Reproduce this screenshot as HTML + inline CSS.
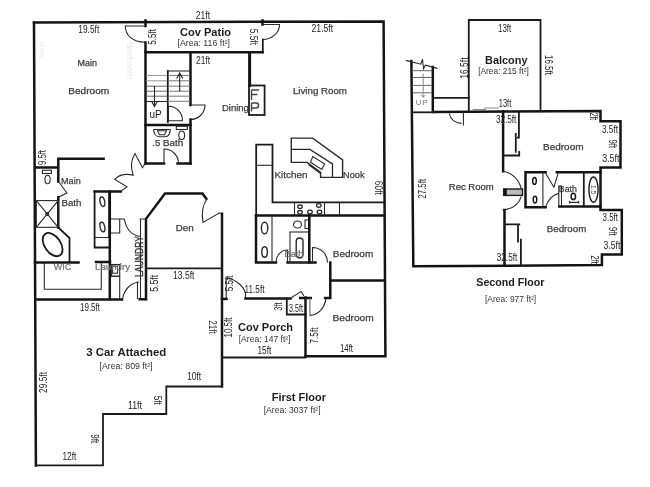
<!DOCTYPE html>
<html><head><meta charset="utf-8">
<style>
html,body{margin:0;padding:0;background:#fff;width:650px;height:487px;overflow:hidden}
svg{display:block;will-change:transform}
text{font-family:"Liberation Sans",sans-serif;text-anchor:middle}
.W{stroke:#141414;stroke-width:2.5;fill:none;stroke-linecap:square;stroke-linejoin:miter}
.M{stroke:#1c1c1c;stroke-width:1.8;fill:none;stroke-linecap:square}
.T{stroke:#2a2a2a;stroke-width:1.1;fill:none}
.G{stroke:#8a8a8a;stroke-width:1;fill:none}
.r{stroke:#3c3c3c;stroke-width:0.25}
.g{stroke:#6e6e6e;stroke-width:0.2}
.d{font-size:10px;fill:#1e1e1e;font-weight:normal}
.r{font-size:9.2px;fill:#3c3c3c;font-weight:normal}
.b{font-size:11px;fill:#1e1e1e;font-weight:bold}
.a{font-size:8.5px;fill:#333;font-weight:normal}
.g{font-size:9.2px;fill:#6e6e6e;font-weight:normal}
</style></head>
<body>
<svg width="650" height="487" viewBox="0 0 650 487">

<!-- ============ FIRST FLOOR ============ -->
<!-- outer walls -->
<path class="W" d="M34,22.4 L383.6,21.4 L385.4,356.3 H305.5"/>
<path class="W" d="M34,22.4 L35.9,465.4"/>
<!-- garage outline -->
<path class="M" d="M35.9,465.4 H103 V414 H166.3 V386.5 H222"/>
<path class="W" d="M222,213.75 V386.5"/>

<!-- patio -->
<path class="W" d="M145.5,20.5 V26"/>
<path class="T" d="M145,26 H125.2 C125.5,35 132,42 145,42.3"/>
<path class="W" d="M145.5,42.5 V163.5"/>
<path class="W" d="M145.5,52.2 H262.8"/>
<path class="M" d="M262.8,39.5 V52.2"/>
<path class="W" d="M262.5,20.5 V24.5"/>
<path class="T" d="M262.5,24.5 H279.5 C279.5,33 272,39.5 262.5,39.5"/>

<!-- stairs -->
<path class="W" d="M190.5,52.5 V105"/>
<path class="M" d="M167.8,71 V122"/>
<path class="T" d="M167.8,71 H190.5"/>
<path class="G" style="stroke:#999" d="M146,75.4 H167 M146,80.8 H167"/><path class="G" style="stroke:#666" d="M146,86.2 H167 M146,91.2 H167 M146,96.2 H167"/>
<path class="G" style="stroke:#777" d="M168,75.4 H190 M168,80.8 H190 M168,86.2 H190 M168,91.2 H190 M168,96.2 H190 M168,101.3 H190"/>
<path class="T" d="M146,101.5 H167"/>
<path class="T" d="M154.5,86 V106 M151.5,101 L154.5,106.5 L157.5,101"/>
<path class="T" d="M179.7,91.5 V73.5 M176.7,78.5 L179.7,73 L182.7,78.5"/>
<path class="T" d="M168.5,120.8 V106.2 A14,14.6 0 0 1 182.5,120.8 Z"/>
<path class="T" d="M190.5,105 H205 A14.5,14.5 0 0 1 190.5,119.5"/>
<path class="W" d="M145.5,125 H190.5"/>
<path class="W" d="M190.5,119.5 V163.5"/>
<path class="W" d="M145.5,163.5 H164 M177.5,163.5 H190.5"/>
<path class="T" d="M164,163.5 V149 A14.5,14.5 0 0 1 178.5,163.5"/>
<!-- .5 bath fixtures -->
<path class="T" d="M153.7,129.5 H170.2 C170.2,134 168,136.7 165,136.7 H158.9 C156,136.7 153.7,134 153.7,129.5 Z"/>
<path class="T" d="M157.5,130.8 H166.5 L164.5,134.8 H159.5 Z"/>
<rect class="T" x="176.3" y="126.3" width="11" height="3.2"/>
<ellipse class="T" cx="181.7" cy="135.3" rx="2.9" ry="4.3"/>

<!-- dining / fireplace -->
<path class="W" d="M249.6,52.5 V85.5" style="stroke-width:3"/>
<rect class="M" x="249" y="85.5" width="15.6" height="29.5"/>
<path class="T" style="stroke:#444;stroke-width:1.4" d="M251.5,90 V100 M251.5,90 H259 M251.5,94.5 H257.5 M251.5,103 V111.5 M251.5,103 H256 C259.5,103 259.5,108 256,108 H251.5"/>

<!-- main bedroom / main bath -->
<path class="W" d="M35,167.5 H57.5 M58.3,158.8 H103.6 M58.3,158.8 V181.5"/>
<rect class="T" x="42.4" y="170.2" width="9" height="3.3"/>
<ellipse class="T" cx="47.6" cy="179.5" rx="2.6" ry="4.3"/>
<path class="T" d="M59,182.2 L66.9,193 L58.3,197.3"/>
<path class="W" d="M58.3,197.3 V227.5"/>
<rect class="T" x="36.3" y="200.6" width="21.9" height="26.7"/>
<path class="T" d="M36.3,200.6 L58.2,227.3 M58.2,200.6 L36.3,227.3"/>
<circle class="T" cx="47.2" cy="214" r="1.5"/>
<path class="M" d="M58.2,227.5 L69.5,238 V261"/>
<ellipse class="M" cx="52.6" cy="244.6" rx="8" ry="13" transform="rotate(-35 52.6 244.6)"/>
<path class="W" d="M35,262.5 H78.5"/>
<path class="T" d="M44.3,262.5 V289.3 H101.3 V262.5"/>
<path class="W" d="M96,262 H110"/>

<!-- vanity / laundry -->
<path class="W" d="M94.6,191.5 H120.8"/>
<path class="M" d="M94.6,191.5 V247.5 H109.5"/>
<path class="T" d="M108.8,191.5 V237.5 H94.6"/>
<ellipse class="T" cx="102.4" cy="201.7" rx="2.3" ry="4.8" transform="rotate(-12 102.4 201.7)" style="stroke-width:1.4"/>
<ellipse class="T" cx="102.4" cy="227" rx="2.3" ry="4.8" transform="rotate(-12 102.4 227)" style="stroke-width:1.4"/>
<path class="T" d="M110.4,219 H124.4 M119.7,219 V233 H110.4"/>
<path class="W" d="M109.8,191.5 V299"/>
<rect class="T" x="111.6" y="264.5" width="8.1" height="11.7"/>
<rect class="T" x="112.6" y="266.2" width="5" height="7"/>
<path class="T" d="M111,276.2 H119.7 V299"/>
<path class="T" d="M124.4,219 C126,229 132,235 139.7,236.4"/>
<path class="T" d="M120.9,191.1 L127,186.8 L114.7,179.4 Q121,172.5 133.2,175.1 Q129,163 135,153.5 L142.4,167.7 L145.5,163"/>
<path class="T" d="M140.5,219 V299 M139.7,219 H146"/>
<path class="W" d="M35.5,299.5 H122 M139.7,299.2 H146"/>
<path class="T" d="M137.5,299 V281.5 M122.5,299 C124,290 130,283 139,282"/>

<!-- den -->
<path class="W" d="M146,299 V218.8 L165,193.5 H202.5 L206.3,198.8"/>
<path class="T" d="M207.2,198.5 C202.5,205 201.5,214 203,222.4 L219.5,212.8 L221.5,214"/>
<path class="M" d="M146,268.3 H221.5"/>
<path class="W" d="M222,298.9 H226.5"/>
<path class="T" d="M226.2,277.2 V298.9 M227.1,277.7 C237,280 244,287 245.5,293.4 V298.9"/>

<!-- kitchen -->
<path class="M" d="M256.2,215.5 V144.6 H272.5 V202.3 H384.5"/>
<path class="T" d="M256.2,165.3 H272.5"/>
<path class="T" d="M294.5,202 V215.5 M324.5,202 V215.5 M339.5,202 V215.5"/>
<g class="T" style="stroke-width:1.3"><ellipse cx="300" cy="206.8" rx="2.3" ry="1.8"/><ellipse cx="318.8" cy="205.5" rx="2.3" ry="1.8"/><ellipse cx="300" cy="212.3" rx="2.3" ry="1.8"/><ellipse cx="310" cy="212" rx="2.3" ry="1.8"/><ellipse cx="319.5" cy="212" rx="2.3" ry="1.8"/></g>
<path class="T" style="stroke-width:1.4" d="M291.3,138.1 H312.7 L342.6,159.9 V177.4 H320.6 V172.3 L307.1,162.4 H291.3 Z"/>
<path class="T" style="stroke-width:1.3" d="M291.3,149.4 H309.9 L332.5,163.9 V177.4 M308.5,164.5 L320.6,173.5"/>
<path class="T" d="M312.7,156.5 L324.6,163.9 L321.8,169.5 L310.5,162.2 Z"/>

<!-- upper right bath -->
<path class="W" d="M256,215.5 H384.5"/>
<path class="W" d="M256,215.5 V262.5 H276 M287.5,262.5 H315.5"/>
<path class="T" d="M272,215.5 V262.5"/>
<ellipse class="T" cx="264.6" cy="228" rx="3.2" ry="5.8" style="stroke-width:1.4"/>
<ellipse class="T" cx="264.6" cy="252" rx="2.8" ry="5.3" style="stroke-width:1.4"/>
<path class="T" d="M276,262.5 A11.5,12.5 0 0 1 287.5,250 V262.5"/>
<rect class="T" x="290" y="232" width="18.8" height="30.5"/>
<rect class="T" x="296.2" y="238" width="6.8" height="20" rx="3.4" style="stroke-width:1.4"/>
<ellipse class="T" cx="297.5" cy="224.5" rx="4" ry="3.5"/>
<rect class="T" x="305" y="220" width="3.8" height="8.5"/>
<path class="W" d="M309.3,215.5 V262.5"/>
<path class="T" d="M312.5,262.5 V247.5 A15,15 0 0 1 327.5,262.5"/>
<path class="W" d="M330.3,262.5 V297.9 H325.1"/>
<path class="W" d="M330.5,280.5 H384.5"/>

<!-- porch -->
<path class="W" d="M245.5,298.5 H290.5 M300.2,297.9 H310.8"/>
<path class="M" d="M286.8,298.5 V314.5 H305.2"/>
<path class="T" d="M290.5,298.3 L301.1,291.4 L303.9,296"/>
<path class="W" d="M305.5,297.5 V356.5"/>
<path class="T" style="stroke:#666" d="M309.9,298 V315.4"/><path class="T" d="M309.9,315.4 C318,315.4 325,308 326,297.9"/>
<path class="M" d="M222,357.5 H305.5"/>

<!-- dims + labels first floor -->

<!-- ============ SECOND FLOOR ============ -->
<path class="M" d="M468.8,111.3 V20 H540.5 V111.3"/>
<path class="W" d="M433.3,112 L600.5,111 V121.3 H620.5 V167.5 H600.5 V210 H621.8 V254.4 H601.9 V265.1 L413.3,266.2 L411.4,61"/>
<path class="W" d="M432.8,67 V111.3"/>
<path class="M" d="M412.3,112.3 H433.3"/>
<path class="M" d="M433.3,97.9 H468.8"/>
<path class="T" d="M405.9,60.4 L420.8,64.2 L422.5,59.3 L423.5,68.7 L425.3,65.2 L437.4,68.4"/>
<path class="G" style="stroke:#666" d="M412.5,70.7 H432 M412.5,77.5 H432 M412.5,85.4 H432 M412.5,92.8 H432"/>
<path class="G" d="M423.2,73.6 V97.3 M420.9,94.9 L423.2,97.3 L425.5,94.9"/>
<path class="G" d="M483.8,108 H498.8 M472.5,109.5 H486"/>
<path class="T" d="M449.3,113.5 C450.5,119 455,122.8 461.5,123.4 M463.4,112 V125.5"/>
<!-- rec room / bedroom upper -->
<path class="W" d="M503.1,111.3 V171.3"/>
<path class="M" d="M503,155.5 H519.2 V151.8 M518.9,112.4 V137.6 H517.5"/>
<path class="M" d="M515.8,133.9 V151.8"/>
<path class="T" d="M502.5,171.3 C511,172 519,179 521.3,188.8"/>
<rect x="503.8" y="189" width="18.7" height="6.4" style="fill:#bbb;stroke:#1a1a1a;stroke-width:1.4"/><rect x="503.3" y="188.6" width="3.5" height="7.2" style="fill:#111"/>
<path class="T" d="M521.3,196.3 C519,204 512,209 502.5,210"/>
<path class="W" d="M504.5,210 V265.5"/>
<path class="M" d="M505,224.3 H519.3 M518,224.3 V241.7 M520.9,239.7 V265.5"/>
<!-- bath upstairs -->
<path class="W" d="M556.8,172.3 H600.5"/>
<path class="W" d="M545.6,172.2 H525.5 V207.2 H545.6"/>
<path class="T" d="M542.9,172.2 V207.2"/>
<ellipse class="M" cx="534.5" cy="180.9" rx="1.8" ry="3.4" style="stroke-width:1.5"/>
<ellipse class="M" cx="535" cy="199.6" rx="1.8" ry="3.4" style="stroke-width:1.5"/>
<path class="T" d="M545.6,173.3 L553.9,187.2 L558.1,173.3"/>
<path class="T" d="M558.8,193.4 C552,195 548,200 545.6,206.6"/><rect class="T" x="558.8" y="186" width="2.7" height="20.6"/>
<path class="W" d="M559.5,206.6 H600.5"/>
<path class="M" d="M583.8,172.5 V206"/>
<ellipse class="M" cx="593.5" cy="189.6" rx="4.6" ry="12.6" style="stroke-width:1.4"/>
<ellipse class="M" cx="573.3" cy="196.4" rx="2.2" ry="3.2" style="stroke-width:1.5"/>
<path class="T" d="M569.2,202.4 H578.9 M569.5,201 V203.5 M578.6,201 V203.5"/>


<text x="155.5" y="117.6" style="font-size:10px;fill:#222">uP</text>
<text x="138.6" y="260.8" textLength="41" lengthAdjust="spacingAndGlyphs" transform="rotate(-90 138.6 256.5)" style="font-size:11.5px;fill:#333;stroke:#333;stroke-width:0.35">LAUNDRY</text>
<text x="421.75" y="105.2" textLength="11.9" lengthAdjust="spacing" style="font-size:8px;fill:#777">UP</text>
<text x="593.5" y="192" transform="rotate(90 593.5 189.6)" style="font-size:7px;fill:#555">1.5</text>
<text x="129.5" y="64" transform="rotate(90 129.5 61)" style="font-size:9px;fill:#e8e8e8">Bedroom</text>
<text x="41" y="53" transform="rotate(-90 41 50)" style="font-size:8px;fill:#eeeeee">Main</text>

<text class="d" x="202.90" y="18.60" textLength="14.25" lengthAdjust="spacingAndGlyphs">21ft</text>
<text class="b" x="205.50" y="35.71" textLength="51" lengthAdjust="spacingAndGlyphs">Cov Patio</text>
<text class="a" x="203.75" y="45.56" textLength="52.5" lengthAdjust="spacingAndGlyphs">[Area: 116 ft²]</text>
<text class="d" x="152.20" y="40.40" textLength="15.7" lengthAdjust="spacingAndGlyphs" transform="rotate(-90 152.20 36.80)">5.5ft</text>
<text class="d" x="253.75" y="40.50" textLength="16.2" lengthAdjust="spacingAndGlyphs" transform="rotate(90 253.75 36.90)">5.5ft</text>
<text class="d" x="88.75" y="33.20" textLength="21" lengthAdjust="spacingAndGlyphs">19.5ft</text>
<text class="d" x="322.35" y="31.65" textLength="21.7" lengthAdjust="spacingAndGlyphs">21.5ft</text>
<text class="d" x="203.00" y="63.60" textLength="14" lengthAdjust="spacingAndGlyphs">21ft</text>
<text class="r" x="87.25" y="65.81" textLength="19.5" lengthAdjust="spacingAndGlyphs">Main</text>
<text class="r" x="88.75" y="94.31" textLength="41" lengthAdjust="spacingAndGlyphs">Bedroom</text>
<text class="r" x="319.95" y="93.61" textLength="54.1" lengthAdjust="spacingAndGlyphs">Living Room</text>
<text class="r" x="235.40" y="110.81" textLength="26.75" lengthAdjust="spacingAndGlyphs">Dining</text>
<text class="r" x="167.70" y="146.11" textLength="31" lengthAdjust="spacingAndGlyphs">.5 Bath</text>
<text class="d" x="42.50" y="161.10" textLength="15" lengthAdjust="spacingAndGlyphs" transform="rotate(-90 42.50 157.50)">9.5ft</text>
<text class="r" x="70.90" y="183.91" textLength="19.6" lengthAdjust="spacingAndGlyphs">Main</text>
<text class="r" x="71.45" y="206.01" textLength="19.9" lengthAdjust="spacingAndGlyphs">Bath</text>
<text class="r" x="291.00" y="177.81" textLength="33" lengthAdjust="spacingAndGlyphs">Kitchen</text>
<text class="r" x="353.75" y="177.81" textLength="21.5" lengthAdjust="spacingAndGlyphs">Nook</text>
<text class="d" x="378.80" y="191.40" textLength="14" lengthAdjust="spacingAndGlyphs" transform="rotate(90 378.80 187.80)">60ft</text>
<text class="r" x="184.75" y="230.81" textLength="18" lengthAdjust="spacingAndGlyphs">Den</text>
<text class="g" x="62.50" y="270.31" textLength="17.5" lengthAdjust="spacingAndGlyphs">WIC</text>
<text class="g" x="112.50" y="270.31" textLength="35" lengthAdjust="spacingAndGlyphs">Laundry</text>
<text class="d" x="183.75" y="279.35" textLength="21.5" lengthAdjust="spacingAndGlyphs">13.5ft</text>
<text class="d" x="154.70" y="286.90" textLength="17" lengthAdjust="spacingAndGlyphs" transform="rotate(-90 154.70 283.30)">5.5ft</text>
<text class="d" x="229.80" y="286.90" textLength="15.7" lengthAdjust="spacingAndGlyphs" transform="rotate(-90 229.80 283.30)">5.5ft</text>
<text class="d" x="254.50" y="293.30" textLength="19.9" lengthAdjust="spacingAndGlyphs">11.5ft</text>
<text class="g" x="294.00" y="257.11" textLength="19" lengthAdjust="spacingAndGlyphs">Bath</text>
<text class="r" x="353.00" y="256.56" textLength="40.4" lengthAdjust="spacingAndGlyphs">Bedroom</text>
<text class="r" x="353.10" y="320.81" textLength="41.2" lengthAdjust="spacingAndGlyphs">Bedroom</text>
<text class="d" x="278.70" y="310.20" textLength="8.3" lengthAdjust="spacingAndGlyphs" transform="rotate(-90 278.70 306.60)">3ft</text>
<text class="d" x="296.00" y="312.30" textLength="13.8" lengthAdjust="spacingAndGlyphs">3.5ft</text>
<text class="d" x="90.00" y="311.10" textLength="20" lengthAdjust="spacingAndGlyphs">19.5ft</text>
<text class="b" x="265.50" y="331.46" textLength="55" lengthAdjust="spacingAndGlyphs">Cov Porch</text>
<text class="a" x="264.60" y="341.81" textLength="51.75" lengthAdjust="spacingAndGlyphs">[Area: 147 ft²]</text>
<text class="d" x="228.75" y="331.10" textLength="20" lengthAdjust="spacingAndGlyphs" transform="rotate(-90 228.75 327.50)">10.5ft</text>
<text class="d" x="212.50" y="330.60" textLength="13.75" lengthAdjust="spacingAndGlyphs" transform="rotate(90 212.50 327.00)">21ft</text>
<text class="d" x="314.30" y="339.20" textLength="16.25" lengthAdjust="spacingAndGlyphs" transform="rotate(-90 314.30 335.60)">7.5ft</text>
<text class="d" x="264.40" y="353.60" textLength="13.75" lengthAdjust="spacingAndGlyphs">15ft</text>
<text class="d" x="346.50" y="351.85" textLength="13" lengthAdjust="spacingAndGlyphs">14ft</text>
<text class="b" x="126.25" y="356.46" textLength="80" lengthAdjust="spacingAndGlyphs">3 Car Attached</text>
<text class="a" x="126.00" y="369.31" textLength="53" lengthAdjust="spacingAndGlyphs">[Area: 809 ft²]</text>
<text class="d" x="194.10" y="379.85" textLength="14.25" lengthAdjust="spacingAndGlyphs">10ft</text>
<text class="d" x="43.40" y="386.00" textLength="21" lengthAdjust="spacingAndGlyphs" transform="rotate(-90 43.40 382.40)">29.5ft</text>
<text class="d" x="158.00" y="403.90" textLength="9" lengthAdjust="spacingAndGlyphs" transform="rotate(90 158.00 400.30)">5ft</text>
<text class="d" x="135.00" y="409.10" textLength="14" lengthAdjust="spacingAndGlyphs">11ft</text>
<text class="d" x="95.00" y="442.35" textLength="9" lengthAdjust="spacingAndGlyphs" transform="rotate(90 95.00 438.75)">9ft</text>
<text class="d" x="69.40" y="459.85" textLength="13.75" lengthAdjust="spacingAndGlyphs">12ft</text>
<text class="b" x="298.85" y="401.46" textLength="54.3" lengthAdjust="spacingAndGlyphs">First Floor</text>
<text class="a" x="292.15" y="413.06" textLength="56.9" lengthAdjust="spacingAndGlyphs">[Area: 3037 ft²]</text>
<text class="d" x="504.60" y="31.60" textLength="13.25" lengthAdjust="spacingAndGlyphs">13ft</text>
<text class="b" x="506.25" y="63.96" textLength="42.5" lengthAdjust="spacingAndGlyphs">Balcony</text>
<text class="a" x="503.50" y="73.81" textLength="50.7" lengthAdjust="spacingAndGlyphs">[Area: 215 ft²]</text>
<text class="d" x="464.50" y="71.70" textLength="21.25" lengthAdjust="spacingAndGlyphs" transform="rotate(-90 464.50 68.10)">16.5ft</text>
<text class="d" x="548.75" y="68.60" textLength="20" lengthAdjust="spacingAndGlyphs" transform="rotate(90 548.75 65.00)">16.5ft</text>
<text class="d" x="505.00" y="107.35" textLength="12.5" lengthAdjust="spacingAndGlyphs">13ft</text>
<text class="d" x="506.15" y="122.70" textLength="20.5" lengthAdjust="spacingAndGlyphs">32.5ft</text>
<text class="d" x="593.25" y="120.10" textLength="7.5" lengthAdjust="spacingAndGlyphs" transform="rotate(90 593.25 116.50)">2ft</text>
<text class="d" x="610.00" y="133.00" textLength="16" lengthAdjust="spacingAndGlyphs">3.5ft</text>
<text class="d" x="612.60" y="147.40" textLength="8.6" lengthAdjust="spacingAndGlyphs" transform="rotate(90 612.60 143.80)">9ft</text>
<text class="d" x="610.85" y="161.80" textLength="17.3" lengthAdjust="spacingAndGlyphs">3.5ft</text>
<text class="r" x="563.25" y="150.31" textLength="40.5" lengthAdjust="spacingAndGlyphs">Bedroom</text>
<text class="r" x="471.25" y="190.31" textLength="45" lengthAdjust="spacingAndGlyphs">Rec Room</text>
<text class="d" x="422.00" y="192.35" textLength="20" lengthAdjust="spacingAndGlyphs" transform="rotate(-90 422.00 188.75)">27.5ft</text>
<text class="r" x="567.80" y="192.31" textLength="18" lengthAdjust="spacingAndGlyphs">Bath</text>
<text class="d" x="610.25" y="220.60" textLength="15.5" lengthAdjust="spacingAndGlyphs">3.5ft</text>
<text class="d" x="613.00" y="234.85" textLength="8.6" lengthAdjust="spacingAndGlyphs" transform="rotate(90 613.00 231.25)">9ft</text>
<text class="d" x="612.00" y="249.10" textLength="16.8" lengthAdjust="spacingAndGlyphs">3.5ft</text>
<text class="r" x="566.50" y="232.06" textLength="39.5" lengthAdjust="spacingAndGlyphs">Bedroom</text>
<text class="d" x="594.50" y="263.10" textLength="8.6" lengthAdjust="spacingAndGlyphs" transform="rotate(90 594.50 259.50)">2ft</text>
<text class="d" x="507.00" y="261.30" textLength="20.6" lengthAdjust="spacingAndGlyphs">32.5ft</text>
<text class="b" x="510.40" y="286.46" textLength="68.25" lengthAdjust="spacingAndGlyphs">Second Floor</text>
<text class="a" x="510.60" y="301.81" textLength="51.25" lengthAdjust="spacingAndGlyphs">[Area: 977 ft²]</text>
</svg>
</body></html>
